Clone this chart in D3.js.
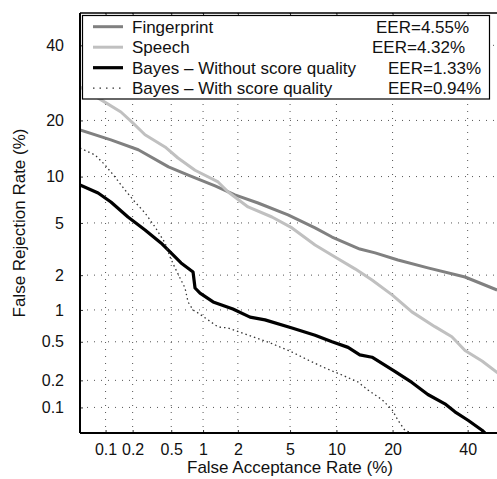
<!DOCTYPE html>
<html>
<head>
<meta charset="utf-8">
<script src="https://cdn.jsdelivr.net/npm/d3@7"></script>
<style>
  body { margin: 0; background: #fff; }
  svg, svg text { font-family: "Liberation Sans", Arial, Helvetica, sans-serif; }
</style>
</head>
<body>
<svg id="chart" width="497" height="479"></svg>
<script>
// DET curves, values in percent (false acceptance, false rejection)
const tickValuesPct = [0.1, 0.2, 0.5, 1, 2, 5, 10, 20, 40];
const tickLabels = ["0.1", "0.2", "0.5", "1", "2", "5", "10", "20", "40"];

const fingerprintFA = [0.05, 0.115, 0.23, 0.47, 0.73, 1.28, 1.89, 2.9, 4.84, 7.37, 9.41, 13.6, 16.4, 21.2, 28.6, 39.2, 49.1];
const fingerprintFR = [18.0, 16.0, 14.2, 11.4, 10.2, 8.77, 7.7, 6.83, 5.68, 4.61, 3.96, 3.22, 3.01, 2.65, 2.29, 1.93, 1.5];

const speechFA = [0.05, 0.089, 0.149, 0.202, 0.271, 0.434, 0.582, 0.844, 1.36, 1.66, 2.42, 3.7, 5.16, 7.37, 9.81, 12.8, 15.8, 19.9, 24.5, 30.5, 35.3, 39.2, 44.4, 50];
const speechFR = [28.1, 24.8, 21.9, 19.4, 17.0, 14.7, 12.8, 10.9, 9.28, 8.04, 6.43, 5.5, 4.61, 3.46, 2.8, 2.25, 1.82, 1.36, 0.96, 0.7, 0.56, 0.41, 0.32, 0.23];

const bayesNoQFA = [0.05, 0.082, 0.115, 0.178, 0.271, 0.395, 0.545, 0.623, 0.809, 0.844, 0.938, 1.23, 1.82, 2.51, 3.28, 5.16, 7.37, 9.41, 11.7, 13.6, 15.8, 20.5, 24.5, 28.6, 33.3, 36.2, 40.1, 44.4, 45.3];
const bayesNoQFR = [8.89, 7.92, 6.93, 5.5, 4.46, 3.58, 2.8, 2.51, 2.12, 1.56, 1.41, 1.18, 1.02, 0.86, 0.81, 0.68, 0.58, 0.5, 0.44, 0.37, 0.35, 0.25, 0.19, 0.14, 0.11, 0.089, 0.071, 0.054, 0.05];

const bayesQFA = [0.05, 0.0755, 0.0985, 0.128, 0.165, 0.212, 0.271, 0.344, 0.434, 0.487, 0.545, 0.623, 0.68, 0.726, 0.809, 0.899, 1.11, 1.36, 1.66, 2.42, 3.46, 5.16, 7.04, 8.52, 10.8, 13.3, 15.05, 17.8, 19.9, 21.2, 22.8, 24.5];
const bayesQFR = [14.5, 13.3, 11.7, 9.94, 8.28, 6.93, 5.86, 4.68, 3.58, 2.8, 2.29, 1.82, 1.56, 1.18, 1.0, 0.938, 0.809, 0.695, 0.68, 0.582, 0.497, 0.395, 0.313, 0.271, 0.228, 0.192, 0.157, 0.122, 0.094, 0.071, 0.054, 0.05];

const seriesNames = ["Fingerprint", "Speech", "Bayes \u2013 Without score quality", "Bayes \u2013 With score quality"];
const eerLabels = ["EER=4.55%", "EER=4.32%", "EER=1.33%", "EER=0.94%"];

// inverse normal cdf (Acklam)
function probit(p) {
    const a = [-39.69683028665376, 220.9460984245205, -275.9285104469687, 138.3577518672690, -30.66479806614716, 2.506628277459239];
    const b = [-54.47609879822406, 161.5858368580409, -155.6989798598866, 66.80131188771972, -13.28068155288572];
    const c = [-0.007784894002430293, -0.3223964580411365, -2.400758277161838, -2.549732539343734, 4.374664141464968, 2.938163982698783];
    const d = [0.007784695709041462, 0.3224671290700398, 2.445134137142996, 3.754408661907416];
    const pl = 0.02425;
    let q, r;
    if (p < pl) {
        q = Math.sqrt(-2 * Math.log(p));
        return (((((c[0]*q+c[1])*q+c[2])*q+c[3])*q+c[4])*q+c[5]) / ((((d[0]*q+d[1])*q+d[2])*q+d[3])*q+1);
    } else if (p <= 1 - pl) {
        q = p - 0.5; r = q * q;
        return (((((a[0]*r+a[1])*r+a[2])*r+a[3])*r+a[4])*r+a[5])*q / (((((b[0]*r+b[1])*r+b[2])*r+b[3])*r+b[4])*r+1);
    }
    q = Math.sqrt(-2 * Math.log(1 - p));
    return -(((((c[0]*q+c[1])*q+c[2])*q+c[3])*q+c[4])*q+c[5]) / ((((d[0]*q+d[1])*q+d[2])*q+d[3])*q+1);
}

const margin = { left: 80, top: 13 };
const innerW = 420, innerH = 420;
const fontSize = 16;

const svg = d3.select("#chart");
const g = svg.append("g").attr("transform", `translate(${margin.left},${margin.top})`);

const pz = v => probit(v / 100);
const x = d3.scaleLinear().domain([pz(0.05), pz(50)]).range([0, innerW]);
const y = d3.scaleLinear().domain([pz(0.05), pz(50)]).range([innerH, 0]);
const tickZ = tickValuesPct.map(pz);
const fmt = (d, i) => tickLabels[i];

g.append("clipPath").attr("id", "clip")
    .append("rect").attr("width", innerW).attr("height", innerH);

// grid
const grid = g.append("g").attr("class", "grid")
    .attr("stroke", "#555").attr("stroke-width", 1).attr("stroke-dasharray", "1,6");
grid.selectAll("line.v").data(tickZ).join("line")
    .attr("class", "v")
    .attr("x1", d => x(d)).attr("x2", d => x(d))
    .attr("y1", 0).attr("y2", innerH);
grid.selectAll("line.h").data(tickZ).join("line")
    .attr("class", "h")
    .attr("y1", d => y(d)).attr("y2", d => y(d))
    .attr("x1", 0).attr("x2", innerW);

// axes
const xAxis = g.append("g").attr("transform", `translate(0,${innerH})`)
    .call(d3.axisBottom(x).tickValues(tickZ).tickFormat(fmt).tickSizeInner(-3).tickSizeOuter(0).tickPadding(11));
const yAxis = g.append("g")
    .call(d3.axisLeft(y).tickValues(tickZ).tickFormat(fmt).tickSizeInner(-3).tickSizeOuter(0).tickPadding(16));
const xTop = g.append("g")
    .call(d3.axisTop(x).tickValues(tickZ).tickFormat("").tickSizeInner(-3).tickSizeOuter(0));
const yRight = g.append("g").attr("transform", `translate(${innerW},0)`)
    .call(d3.axisRight(y).tickValues(tickZ).tickFormat("").tickSizeInner(-3).tickSizeOuter(0));

[xAxis, yAxis, xTop, yRight].forEach(a => {
    a.attr("font-family", null).attr("font-size", null);
    a.select(".domain").remove();
    a.selectAll("text").attr("font-size", fontSize).attr("fill", "#111");
    a.selectAll(".tick line").attr("stroke", "#333");
});

// curves
const line = d3.line()
    .x(d => x(pz(d[0])))
    .y(d => y(pz(d[1])));

const zip = (a, b) => a.map((v, i) => [v, b[i]]);
const curves = [
    { data: zip(fingerprintFA, fingerprintFR), color: "#808080", width: 3, dash: null },
    { data: zip(speechFA, speechFR), color: "#c0c0c0", width: 3, dash: null },
    { data: zip(bayesNoQFA, bayesNoQFR), color: "#000", width: 3.2, dash: null },
    { data: zip(bayesQFA, bayesQFR), color: "#333", width: 1.3, dash: "1.5,3" }
];

const plot = g.append("g").attr("clip-path", "url(#clip)");
plot.selectAll("path.curve").data(curves).join("path")
    .attr("class", "curve")
    .attr("d", d => line(d.data))
    .attr("fill", "none")
    .attr("stroke", d => d.color)
    .attr("stroke-width", d => d.width)
    .attr("stroke-linejoin", "round")
    .attr("stroke-dasharray", d => d.dash);

// frame
g.append("line").attr("x1", 0).attr("x2", innerW).attr("y1", 0).attr("y2", 0)
    .attr("stroke", "#000").attr("stroke-width", 1.3);
g.append("line").attr("x1", innerW).attr("x2", innerW).attr("y1", 0).attr("y2", innerH)
    .attr("stroke", "#000").attr("stroke-width", 1.3);
g.append("line").attr("x1", 0).attr("x2", 0).attr("y1", 0).attr("y2", innerH)
    .attr("stroke", "#000").attr("stroke-width", 2);
g.append("line").attr("x1", 0).attr("x2", innerW).attr("y1", innerH).attr("y2", innerH)
    .attr("stroke", "#000").attr("stroke-width", 2);

// legend
const legend = svg.append("g");
legend.append("rect")
    .attr("x", 82.5).attr("y", 15.5).attr("width", 407).attr("height", 83.5)
    .attr("fill", "#fff").attr("stroke", "#000").attr("stroke-width", 1.2);
const rowY = [26.7, 47.2, 67.7, 88.2];
const eerX = [376, 372, 388, 388];
const legRows = legend.selectAll("g.row").data(curves).join("g")
    .attr("class", "row")
    .attr("transform", (d, i) => `translate(0,${rowY[i]})`);
legRows.append("line")
    .attr("x1", 93).attr("x2", 123)
    .attr("stroke", d => d.color)
    .attr("stroke-width", d => d.width)
    .attr("stroke-dasharray", d => d.dash ? "1.5,5" : null);
legRows.append("text")
    .attr("x", 132).attr("dy", "0.36em")
    .attr("font-size", 17).attr("fill", "#111")
    .text((d, i) => seriesNames[i]);
legRows.append("text")
    .attr("x", (d, i) => eerX[i]).attr("dy", "0.36em")
    .attr("font-size", 17).attr("fill", "#111")
    .text((d, i) => eerLabels[i]);

// axis titles
svg.append("text")
    .attr("x", 290).attr("y", 473)
    .attr("text-anchor", "middle").attr("font-size", 17).attr("fill", "#111")
    .text("False Acceptance Rate (%)");
svg.append("text")
    .attr("transform", "translate(25,223) rotate(-90)")
    .attr("text-anchor", "middle").attr("font-size", 17).attr("fill", "#111")
    .text("False Rejection Rate (%)");
</script>
</body>
</html>
